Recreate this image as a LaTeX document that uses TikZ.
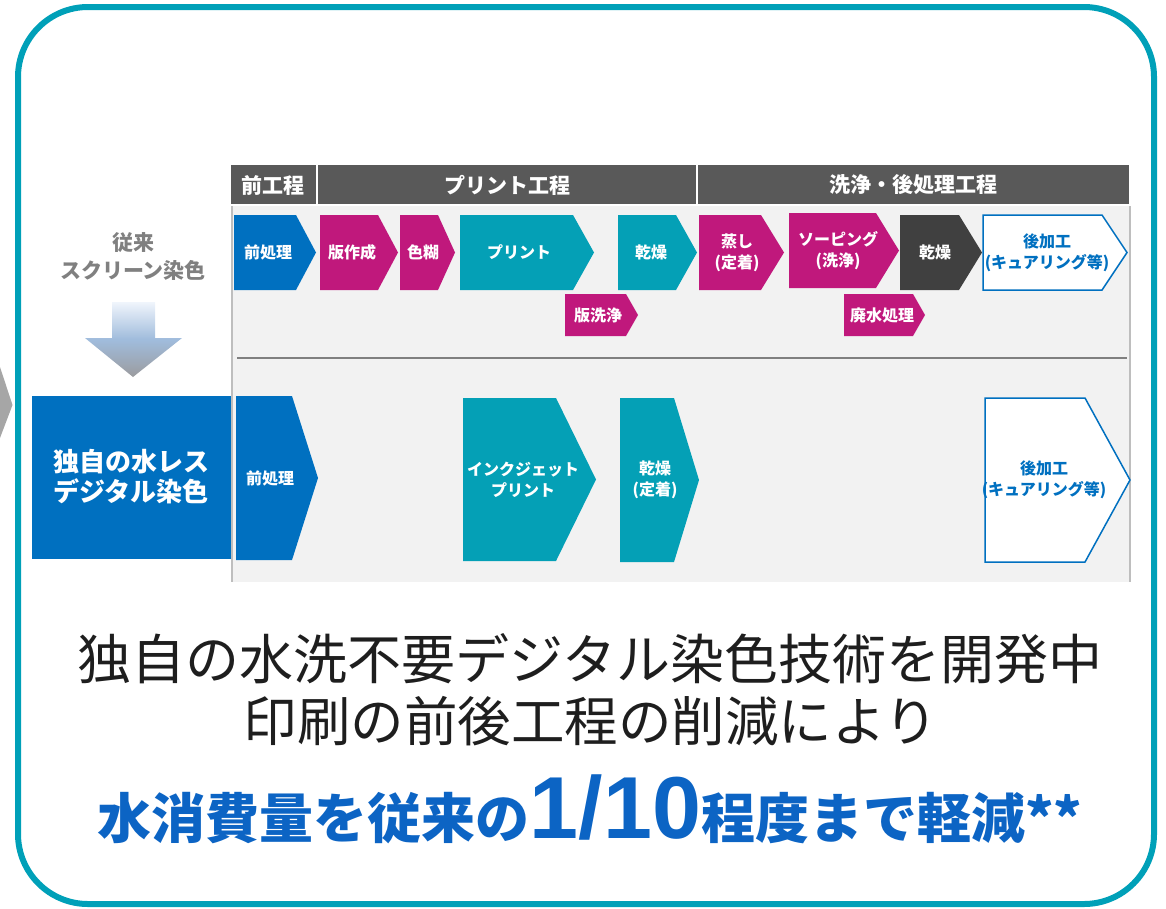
\documentclass[tikz,border=0pt]{standalone}
\usepackage{fontspec}
\setmainfont{Noto Sans CJK JP}
\newfontfamily\arialfont{Liberation Sans}
\definecolor{cblue}{RGB}{0,112,192}
\definecolor{cmag}{RGB}{192,24,124}
\definecolor{cteal}{RGB}{4,160,182}
\definecolor{cborder}{RGB}{0,160,184}
\definecolor{cdark}{RGB}{64,64,64}
\definecolor{chead}{RGB}{89,89,89}
\definecolor{cpanel}{RGB}{242,242,242}
\definecolor{cline}{RGB}{190,190,190}
\definecolor{csep}{RGB}{128,128,128}
\definecolor{cgraytxt}{RGB}{128,128,128}
\definecolor{cclaim}{RGB}{12,100,196}
\definecolor{ctext}{RGB}{30,30,30}
\definecolor{arrtop}{RGB}{240,245,252}
\definecolor{arrmid}{RGB}{160,188,220}
\definecolor{arrbot}{RGB}{155,155,158}
\tikzset{
  chtext/.style={text=white, font=\bfseries\fontsize{16}{21}\selectfont, align=center, inner sep=0pt},
  headcell/.style={fill=chead, draw=white, line width=1.5pt},
  headtext/.style={text=white, font=\bfseries\fontsize{21}{24}\selectfont, inner sep=0pt},
  fblue/.style={fill=cblue},
  fmag/.style={fill=cmag},
  fteal/.style={fill=cteal},
  fdark/.style={fill=cdark},
  fwhite/.style={fill=white, draw=cblue, line width=1.5pt},
}
% #1 name, #2 style, #3 left, #4 body end, #5 tip, #6 top, #7 bottom, #8 text x, #9 text
\newcommand\chev[9]{%
  \path[#2] (#3,#6) -- (#4,#6) -- (#5,{(#6+#7)/2}) -- (#4,#7) -- (#3,#7) -- cycle;
  \node[chtext] (#1) at (#8,{(#6+#7)/2}) {#9};%
}
\begin{document}
\begin{tikzpicture}[x=1pt,y=-1pt]
\useasboundingbox (0,0) rectangle (1166,908);
% outer frame
\draw[cborder, line width=6pt, rounded corners=70pt] (18,7) rectangle (1154,904);
% partial gray arrow at left edge
\fill[black!35] (0,367) -- (12.5,405) -- (0,438) -- cycle;
% panel
\fill[cpanel] (232,205) rectangle (1130,582);
\draw[cline, line width=1.2pt] (232,205) -- (232,582);
\draw[cline, line width=1.2pt] (1130,205) -- (1130,582);
\draw[csep, line width=1.8pt] (237,358) -- (1127,358);
% header
\path[headcell] (230,164) rectangle (317,205);
\path[headcell] (317,164) rectangle (697,205);
\path[headcell] (697,164) rectangle (1130,205);
\node[headtext] (h1) at (273,185) {前工程};
\node[headtext] (h2) at (507,185) {プリント工程};
\node[headtext] (h3) at (913,185) {洗浄・後処理工程};
% left labels
\node[text=cgraytxt, font=\bfseries\fontsize{21}{28}\selectfont, align=center, inner sep=0pt] (conv) at (133,256) {従来\\スクリーン染色};
% gradient arrow (banded)
\begin{scope}
\clip (112,302) -- (155,302) -- (155,338) -- (182,338) -- (133,377) -- (85,338) -- (112,338) -- cycle;
\foreach \i in {0,...,37}{
  \pgfmathsetmacro\pa{100-\i*100/37}
  \fill[arrtop!\pa!arrmid] (80,{302+\i*1.0}) rectangle (190,{303.2+\i*1.0});
}
\foreach \i in {0,...,37}{
  \pgfmathsetmacro\pb{100-\i*100/37}
  \fill[arrmid!\pb!arrbot] (80,{340+\i*1.0}) rectangle (190,{341.2+\i*1.0});
}
\end{scope}
\fill[cblue] (32,396) rectangle (231,559);
\node[text=white, font=\bfseries\fontsize{26}{30}\selectfont, align=center, inner sep=0pt] (ours) at (131,477) {独自の水レス\\デジタル染色};
% top row
\chev{t1}{fblue}{234}{296}{316}{215}{290}{268}{前処理}
\chev{t2}{fmag}{320}{378}{398}{215}{290}{352}{版作成}
\chev{t3}{fmag}{400}{438}{455}{215}{290}{423}{色糊}
\chev{t4}{fteal}{460}{573}{594}{215}{290}{519}{プリント}
\chev{t5}{fteal}{618}{676}{697}{215}{290}{651}{乾燥}
\chev{t6}{fmag}{565}{626}{638}{294}{336}{598}{版洗浄}
\chev{t7}{fmag}{699}{761}{784}{215}{290}{737}{蒸し\\(定着)}
\chev{t8}{fmag}{789}{876}{899}{213}{288}{838}{ソーピング\\(洗浄)}
\chev{t9}{fdark}{900}{959}{982}{215}{290}{935}{乾燥}
\chev{t10}{fwhite}{983}{1102}{1127}{215}{290}{1047}{\color{cblue}後加工\\\color{cblue}(キュアリング等)}
\chev{t11}{fmag}{844}{913}{925}{294}{336}{882}{廃水処理}
% bottom row
\chev{b1}{fblue}{236}{292}{318}{396}{560}{270}{前処理}
\chev{b2}{fteal}{463}{556}{596}{398}{561}{523}{インクジェット\\プリント}
\chev{b3}{fteal}{620}{674}{699}{398}{562}{655}{乾燥\\(定着)}
\chev{b4}{fwhite}{985}{1085}{1130}{398}{562}{1044}{\color{cblue}後加工\\\color{cblue}(キュアリング等)}
% bottom statements
\node[anchor=base, text=ctext, font=\fontsize{54}{60}\selectfont, inner sep=0pt] (l1) at (590,679) {独自の水洗不要デジタル染色技術を開発中};
\node[anchor=base, text=ctext, font=\fontsize{53.5}{60}\selectfont, inner sep=0pt] (l2) at (591,741) {印刷の前後工程の削減により};
\node[anchor=base, text=cclaim, font=\bfseries\fontsize{54}{60}\selectfont, inner sep=0pt] (l3) at (590,838) {水消費量を従来の{\arialfont\bfseries\fontsize{88}{90}\selectfont 1/10}程度まで軽減**};
\end{tikzpicture}
\end{document}
